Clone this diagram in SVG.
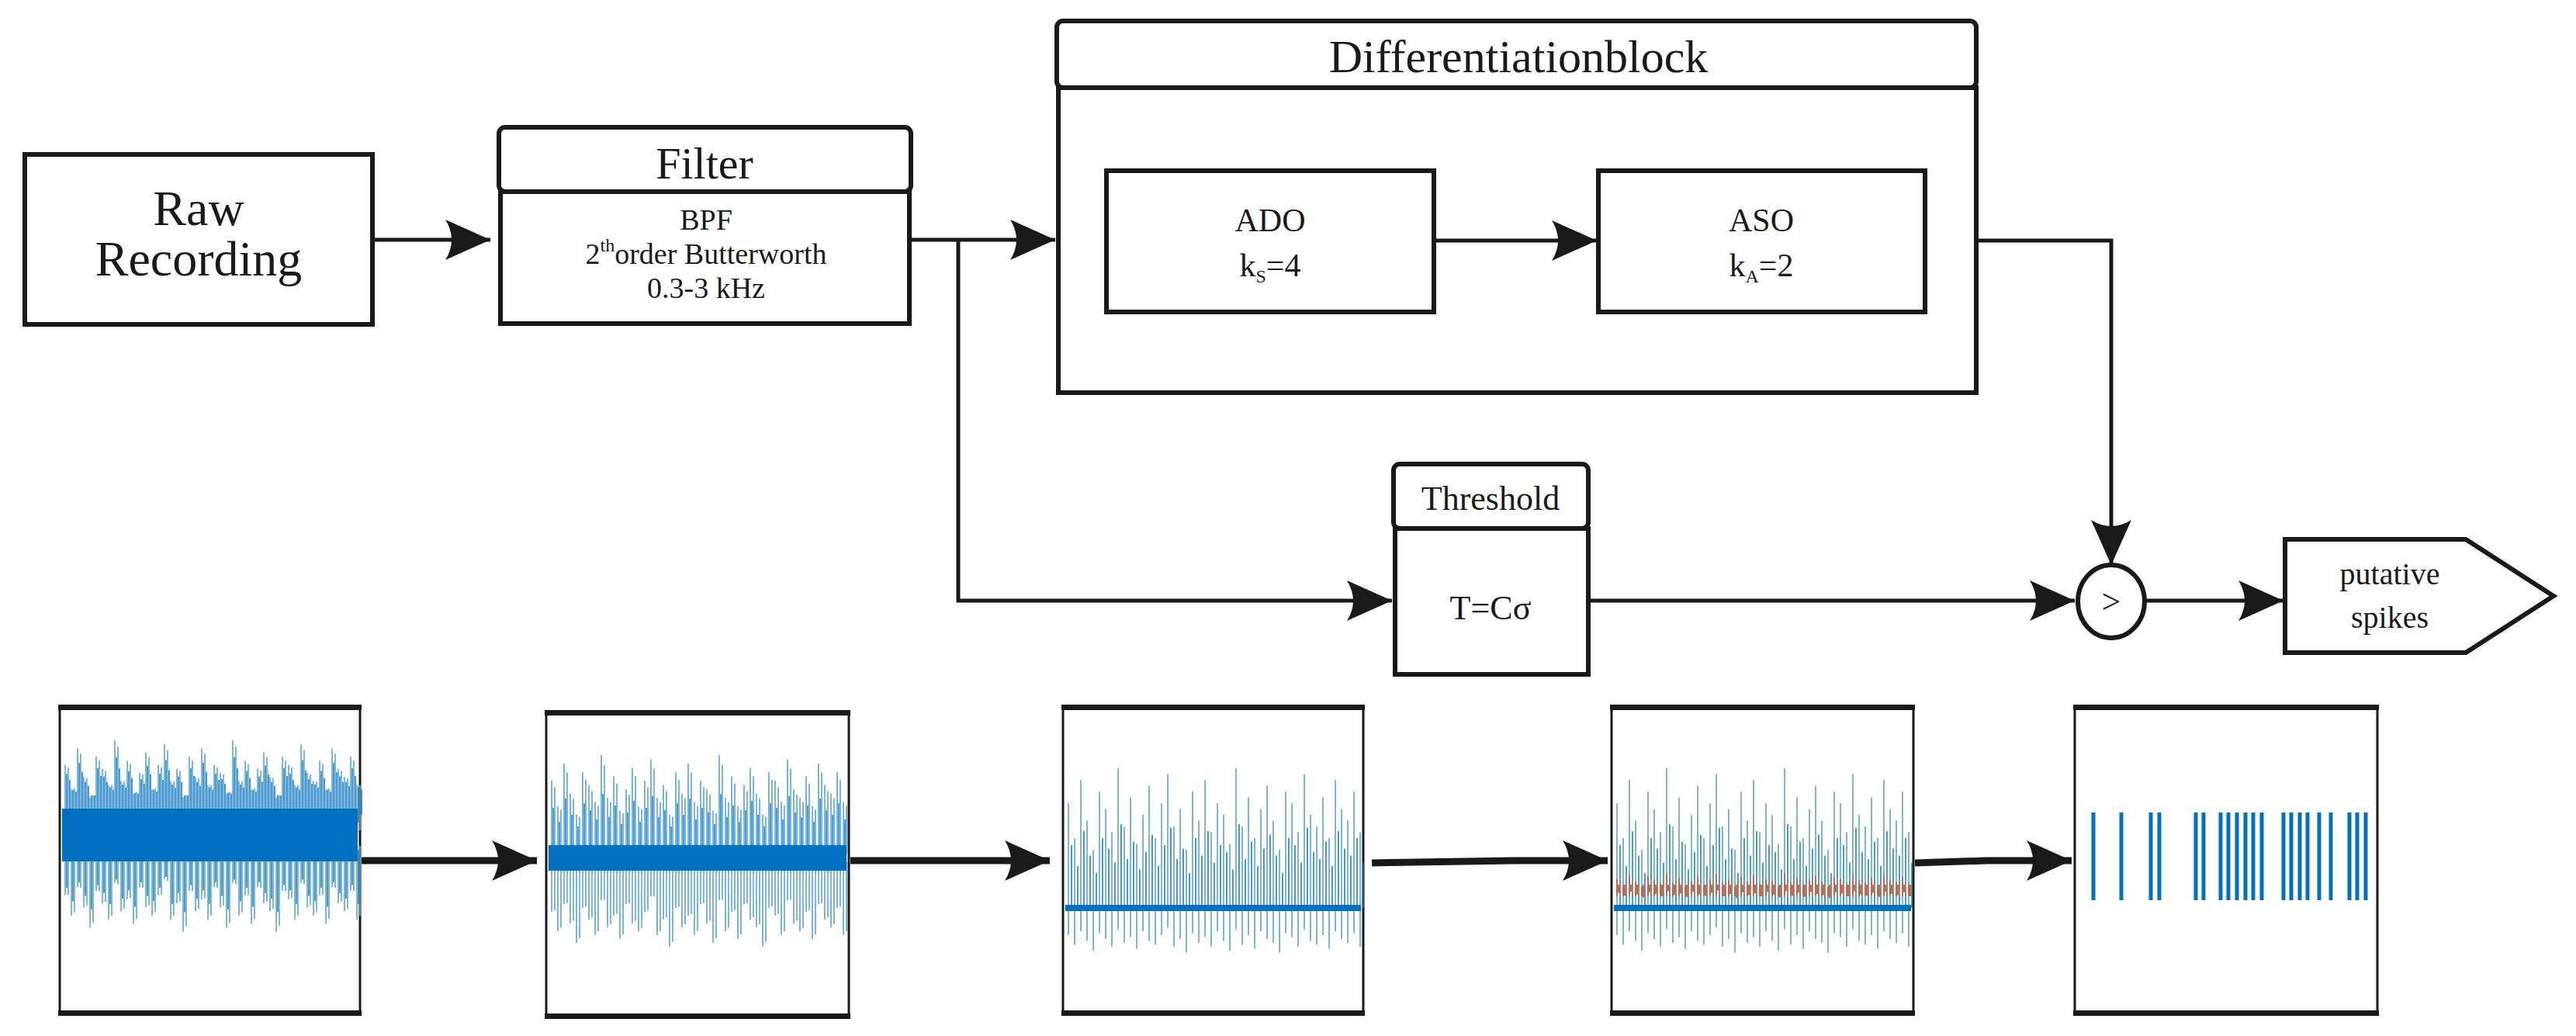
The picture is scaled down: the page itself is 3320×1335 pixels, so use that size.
<svg xmlns="http://www.w3.org/2000/svg" xmlns:xlink="http://www.w3.org/1999/xlink" width="3320" height="1335" viewBox="0 0 3320 1335">
<style>
.box{fill:#fff;stroke:#1a1a1a;stroke-width:6}
.c{fill:none;stroke:#1a1a1a;stroke-width:5}
.cb{fill:none;stroke:#1a1a1a;stroke-width:9}
.t{font-family:"Liberation Serif","Times New Roman","DejaVu Serif",serif;fill:#1a1a1a;text-anchor:middle}
.panel{fill:#fff;stroke:#1a1a1a;stroke-width:3}
.pb{fill:#1a1a1a}
.nl{stroke:#5aa6d0;stroke-width:1.6;fill:none}
.nd{stroke:#0070c0;stroke-width:1.4;fill:none}
</style>
<defs>
<marker id="ah" markerUnits="userSpaceOnUse" viewBox="-60 -28 62 56" refX="0" refY="0" markerWidth="62" markerHeight="56" orient="auto">
<path d="M0,0 L-58,-26 Q-42,0 -58,26 Z" fill="#1a1a1a"/>
</marker>
<path id="nu" d="M4,0V-90M12,0V-60M20,0V-110M28,0V-75M36,0V-50M44,0V-100M52,0V-85M60,0V-65M68,0V-120M76,0V-70M84,0V-95M92,0V-55M100,0V-80M108,0V-105M116,0V-60M124,0V-90M132,0V-115M140,0V-70M148,0V-85M156,0V-50M164,0V-100M172,0V-75M180,0V-110M188,0V-65M196,0V-90M204,0V-80M212,0V-55M220,0V-120M228,0V-70M236,0V-95M244,0V-60M252,0V-85M260,0V-105M268,0V-75M276,0V-50M284,0V-100M292,0V-90M300,0V-65M308,0V-115M316,0V-80M324,0V-70M332,0V-95M340,0V-60M348,0V-110M356,0V-85M364,0V-75M372,0V-100M380,0V-65"/>
<path id="nd" d="M4,0V70M12,0V95M20,0V60M28,0V85M36,0V110M44,0V65M52,0V80M60,0V100M68,0V55M76,0V90M84,0V75M92,0V105M100,0V60M108,0V85M116,0V95M124,0V70M132,0V50M140,0V100M148,0V80M156,0V115M164,0V65M172,0V90M180,0V75M188,0V100M196,0V60M204,0V85M212,0V110M220,0V55M228,0V95M236,0V70M244,0V105M252,0V60M260,0V80M268,0V90M276,0V115M284,0V65M292,0V75M300,0V100M308,0V55M316,0V85M324,0V95M332,0V70M340,0V105M348,0V60M356,0V80M364,0V90M372,0V65M380,0V100"/>
</defs>

<g id="raw"><rect class="box" x="32" y="199" width="448" height="219"/>
<text class="t" font-family="Liberation Serif, serif" x="256" y="290" font-size="64">Raw</text>
<text class="t" font-family="Liberation Serif, serif" x="256" y="355" font-size="64">Recording</text></g>

<g id="filter"><rect class="box" x="643" y="164" width="531" height="83" rx="8"/>
<rect class="box" x="645" y="247" width="527" height="170"/>
<text class="t" font-family="Liberation Serif, serif" x="908" y="230" font-size="58">Filter</text>
<text class="t" font-family="Liberation Serif, serif" x="910" y="296" font-size="38">BPF</text>
<text class="t" font-family="Liberation Serif, serif" x="910" y="340" font-size="38">2<tspan font-size="24" dy="-16">th</tspan><tspan dy="16">order Butterworth</tspan></text>
<text class="t" font-family="Liberation Serif, serif" x="910" y="384" font-size="38">0.3-3 kHz</text></g>

<g id="diff"><rect class="box" x="1362" y="27" width="1185" height="86" rx="8"/>
<rect class="box" x="1364" y="113" width="1183" height="393"/>
<text class="t" font-family="Liberation Serif, serif" x="1957" y="93" font-size="60">Differentiationblock</text></g>

<g id="ado"><rect class="box" x="1426" y="220" width="422" height="182"/>
<text class="t" font-family="Liberation Serif, serif" x="1637" y="298" font-size="42">ADO</text>
<text class="t" font-family="Liberation Serif, serif" x="1637" y="356" font-size="42">k<tspan font-size="24" dy="8">S</tspan><tspan dy="-8">=4</tspan></text></g>

<g id="aso"><rect class="box" x="2060" y="220" width="421" height="182"/>
<text class="t" font-family="Liberation Serif, serif" x="2270" y="298" font-size="42">ASO</text>
<text class="t" font-family="Liberation Serif, serif" x="2270" y="356" font-size="42">k<tspan font-size="24" dy="8">A</tspan><tspan dy="-8">=2</tspan></text></g>

<g id="threshold"><rect class="box" x="1796" y="598" width="251" height="83" rx="8"/>
<rect class="box" x="1798" y="681" width="249" height="188"/>
<text class="t" font-family="Liberation Serif, serif" x="1921" y="657" font-size="44">Threshold</text>
<text class="t" font-family="Liberation Serif, serif" x="1921" y="798" font-size="44">T=Cσ</text></g>

<g id="compare"><ellipse class="box" cx="2721" cy="775" rx="43" ry="47"/>
<text class="t" font-family="Liberation Serif, serif" x="2721" y="790" font-size="44">&gt;</text></g>

<g id="spikes"><path class="box" d="M2945,695H3178L3291,768L3178,841H2945Z"/>
<text class="t" font-family="Liberation Serif, serif" x="3080" y="753" font-size="40">putative</text>
<text class="t" font-family="Liberation Serif, serif" x="3080" y="809" font-size="40">spikes</text></g>

<g id="panel1"><rect class="panel" x="77" y="913" width="387" height="391"/>
<use href="#nu" class="nl" transform="translate(80,1080) scale(1,1.05)"/>
<use href="#nd" class="nl" transform="translate(80,1080) scale(1,1.05)"/>
<use href="#nu" class="nl" transform="translate(84,1070) scale(1,0.9)"/>
<use href="#nd" class="nl" transform="translate(84,1090) scale(1,0.9)"/>
<use href="#nu" class="nd" transform="translate(82,1060) scale(1,0.7)"/>
<use href="#nd" class="nd" transform="translate(82,1095) scale(1,0.7)"/>
<use href="#nu" class="nd" transform="translate(86,1050) scale(1,0.5)"/>
<rect x="80" y="1042" width="381" height="68" fill="#0070c0"/>
<rect class="pb" x="75" y="908" width="391" height="7"/><rect class="pb" x="75" y="1302" width="391" height="7"/></g>

<g id="panel2"><rect class="panel" x="704" y="919" width="390" height="391"/>
<use href="#nu" class="nl" transform="translate(707,1105) scale(1,1.1)"/>
<use href="#nd" class="nl" transform="translate(707,1105) scale(1,1.0)"/>
<use href="#nu" class="nl" transform="translate(711,1100) scale(1,0.95)"/>
<use href="#nd" class="nl" transform="translate(711,1110) scale(1,0.9)"/>
<use href="#nu" class="nd" transform="translate(709,1095) scale(1,0.6)"/>
<rect x="707" y="1089" width="384" height="33" fill="#0070c0"/>
<rect class="pb" x="702" y="915" width="394" height="7"/><rect class="pb" x="702" y="1306" width="394" height="7"/></g>

<g id="panel3"><rect class="panel" x="1370" y="913" width="387" height="391"/>
<use href="#nu" class="nl" transform="translate(1373,1170) scale(1,1.5)"/>
<use href="#nd" class="nl" transform="translate(1373,1170) scale(1,0.5)"/>
<use href="#nu" class="nd" transform="translate(1377,1170) scale(1,0.9)"/>
<rect x="1373" y="1166" width="381" height="8" fill="#0070c0"/>
<rect class="pb" x="1368" y="908" width="391" height="7"/><rect class="pb" x="1368" y="1302" width="391" height="7"/></g>

<g id="panel4"><rect class="panel" x="2077" y="913" width="389" height="391"/>
<use href="#nu" class="nl" transform="translate(2080,1170) scale(1,1.5)"/>
<use href="#nd" class="nl" transform="translate(2080,1170) scale(1,0.5)"/>
<use href="#nu" class="nd" transform="translate(2084,1170) scale(1,0.9)"/>
<use href="#nu" style="stroke:#e0622a;stroke-width:2;fill:none" transform="translate(2080,1155) scale(1,0.25)"/>
<use href="#nd" style="stroke:#e0622a;stroke-width:2;fill:none" transform="translate(2082,1140) scale(1,0.15)"/>
<rect x="2080" y="1166" width="383" height="8" fill="#0070c0"/>
<rect class="pb" x="2075" y="908" width="393" height="7"/><rect class="pb" x="2075" y="1302" width="393" height="7"/></g>

<g id="panel5"><rect class="panel" x="2674" y="913" width="390" height="391"/>
<path stroke="#0070c0" stroke-width="5" d="M2698,1047V1160M2734,1047V1160M2772,1047V1160M2783,1047V1160M2830,1047V1160M2840,1047V1160M2862,1047V1160M2872,1047V1160M2883,1047V1160M2894,1047V1160M2904,1047V1160M2915,1047V1160M2943,1047V1160M2953,1047V1160M2964,1047V1160M2974,1047V1160M2989,1047V1160M3004,1047V1160M3028,1047V1160M3038,1047V1160M3049,1047V1160"/>
<rect class="pb" x="2672" y="908" width="394" height="7"/><rect class="pb" x="2672" y="1302" width="394" height="7"/></g>

<g id="connectors">
<path class="c" d="M480,309H632" marker-end="url(#ah)"/>
<path class="c" d="M1174,309H1360" marker-end="url(#ah)"/>
<path class="c" d="M1235,309V774H1794" marker-end="url(#ah)"/>
<path class="c" d="M1848,310H2058" marker-end="url(#ah)"/>
<path class="c" d="M2547,310H2721V728" marker-end="url(#ah)"/>
<path class="c" d="M2047,774H2674" marker-end="url(#ah)"/>
<path class="c" d="M2766,774H2943" marker-end="url(#ah)"/>
<path class="cb" d="M466,1109H692" marker-end="url(#ah)"/>
<path class="cb" d="M1096,1109H1353" marker-end="url(#ah)"/>
<path class="cb" d="M1768,1112L1950,1109H2072" marker-end="url(#ah)"/>
<path class="cb" d="M2468,1112L2560,1109H2670" marker-end="url(#ah)"/>
</g>
</svg>
